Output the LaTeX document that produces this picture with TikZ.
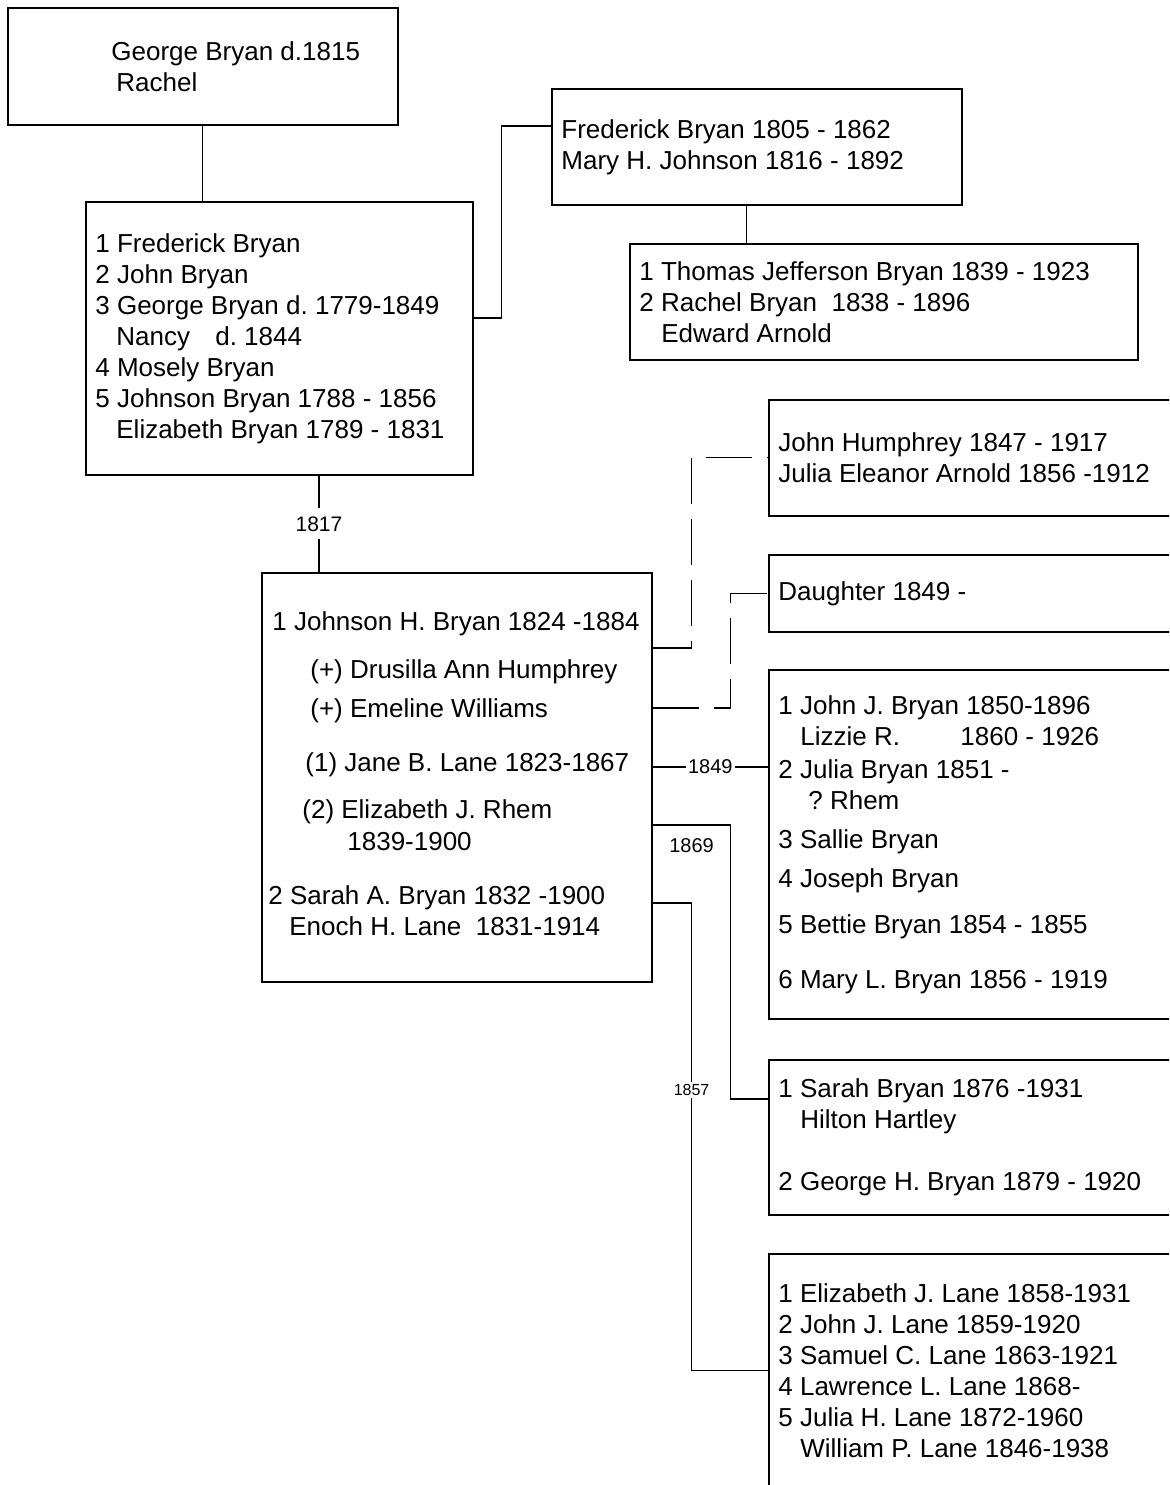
\documentclass[tikz,border=0pt]{standalone}
\usepackage{fontspec}
\setmainfont{Liberation Sans}
\usetikzlibrary{positioning,calc}

\tikzset{
  famBox/.style={draw, line width=0.8pt, inner sep=0pt, anchor=north west},
  famText/.style={inner sep=0pt, align=left, font=\fontsize{13}{15.5}\selectfont},
  link/.style={line width=0.6pt},
  dashLink/.style={line width=0.6pt, dash pattern=on 23pt off 7.5pt},
  yearLbl/.style={fill=white, inner sep=1pt, font=\fontsize{10}{12}\selectfont},
}

\begin{document}
\frenchspacing
\begin{tikzpicture}[x=0.5pt,y=-0.5pt]
\useasboundingbox (0,0) rectangle (1169,1485);
\clip (0,0) rectangle (1169,1485);

% boxes
\node[famBox, minimum width=195pt, minimum height=58.5pt] (george) at (7,7) {};
\node[famBox, minimum width=193.5pt, minimum height=136.5pt] (kids) at (85,201) {};
\node[famBox, minimum width=205pt, minimum height=58pt] (fred) at (551,88) {};
\node[famBox, minimum width=254pt, minimum height=58pt] (thomas) at (629,243) {};
\node[famBox, minimum width=195pt, minimum height=204.5pt] (john) at (261,572) {};
\node[famBox, minimum width=215pt, minimum height=58pt] (humph) at (768,399) {};
\node[famBox, minimum width=215pt, minimum height=38.5pt] (dau) at (768,554) {};
\node[famBox, minimum width=215pt, minimum height=174.5pt] (jj) at (768,669) {};
\node[famBox, minimum width=215pt, minimum height=77.5pt] (sarah) at (768,1059) {};
\node[famBox, minimum width=215pt, minimum height=116.5pt] (lane) at (768,1253) {};

% texts
\node[famText, right=5pt of george.west] (georgeTxt)
  {\hspace*{47pt}George Bryan d.1815\\ \hspace*{49.5pt}Rachel};
\node[famText, right=5pt of kids.west] (kidsTxt)
  {1 Frederick Bryan\\
   2 John Bryan\\
   3 George Bryan d. 1779-1849\\
   \hspace*{10.5pt}Nancy\hspace{9pt} d. 1844\\
   4 Mosely Bryan\\
   5 Johnson Bryan 1788 - 1856\\
   \hspace*{10.5pt}Elizabeth Bryan 1789 - 1831};
\node[famText, right=5pt of fred.west] (fredTxt)
  {Frederick Bryan 1805 - 1862\\ Mary H. Johnson 1816 - 1892};
\node[famText, right=5pt of thomas.west] (thomasTxt)
  {1 Thomas Jefferson Bryan 1839 - 1923\\
   2 Rachel Bryan\ \ 1838 - 1896\\
   \hspace*{11pt}Edward Arnold};
\node[famText, right=3.5pt of john.west, yshift=2pt] (johnTxt)
  {\hspace*{2pt}1 Johnson H. Bryan 1824 -1884\\[8.5pt]
   \hspace*{21pt}(+) Drusilla Ann Humphrey\\[4pt]
   \hspace*{21pt}(+) Emeline Williams\\[11.5pt]
   \hspace*{18.5pt}(1) Jane B. Lane 1823-1867\\[8pt]
   \hspace*{17pt}(2) Elizabeth J. Rhem\\[0.5pt]
   \hspace*{39.5pt}1839-1900\\[11.5pt]
   2 Sarah A. Bryan 1832 -1900\\
   \hspace*{10.5pt}Enoch H. Lane\ \ 1831-1914};
\node[famText, right=5pt of humph.west] (humphTxt)
  {John Humphrey 1847 - 1917\\ Julia Eleanor Arnold 1856 -1912};
\node[famText, right=5pt of dau.west] (dauTxt) {Daughter 1849 -};
\node[famText, right=5pt of jj.west] (jjTxt)
  {1 John J. Bryan 1850-1896\\
   \hspace*{11pt}\makebox[80pt][l]{Lizzie R.}1860 - 1926\\[1pt]
   2 Julia Bryan 1851 -\\
   \hspace*{15pt}? Rhem\\[4pt]
   3 Sallie Bryan\\[4pt]
   4 Joseph Bryan\\[7.5pt]
   5 Bettie Bryan 1854 - 1855\\[12pt]
   6 Mary L. Bryan 1856 - 1919};
\node[famText, right=5pt of sarah.west] (sarahTxt)
  {1 Sarah Bryan 1876 -1931\\
   \hspace*{11pt}Hilton Hartley\\[15.5pt]
   2 George H. Bryan 1879 - 1920};
\node[famText, right=5pt of lane.west] (laneTxt)
  {1 Elizabeth J. Lane 1858-1931\\
   2 John J. Lane 1859-1920\\
   3 Samuel C. Lane 1863-1921\\
   4 Lawrence L. Lane 1868-\\
   5 Julia H. Lane 1872-1960\\
   \hspace*{11pt}William P. Lane 1846-1938};

% connectors
\coordinate (k1) at ($(kids.south west)+(234,0)$);
\coordinate (f1) at ([xshift=-5pt]fred.south);
\coordinate (j1) at ($(john.north east)+(0,76)$);
\coordinate (j2) at ($(john.north east)+(0,136)$);
\coordinate (j3) at ($(john.north east)+(0,195)$);
\coordinate (j4) at ($(john.north east)+(0,253)$);
\coordinate (j5) at ($(john.north east)+(0,331)$);
\coordinate (s1) at ($(sarah.north west)+(0,40)$);

\draw[link] (george.south) -- (george.south |- kids.north);
\draw[link] ($(kids.north east)+(0,117)$) -- ++(28,0) |- ($(fred.north west)+(0,38)$);
\draw[link] (f1) -- (f1 |- thomas.north);
\draw[link] (k1) -- node[yearLbl, inner ysep=4pt, font=\fontsize{10.5}{12}\selectfont] (lbl1817) {1817} (k1 |- john.north);
\draw[dashLink] (j1) -- ++(39,0) |- (humph.west);
\draw[dashLink] (j2) -- ++(78,0) |- (dau.west);
\draw[link] (j3) -- node[yearLbl] (lbl1849) {1849} (j3 -| jj.west);
\draw[link] (j4) -- node[below=6.5pt, inner sep=0pt, font=\fontsize{10}{12}\selectfont] (lbl1869) {1869} ++(78,0) |- (s1);
\draw[link] (j5) -- ++(39,0) |- node[pos=0.2, yearLbl, font=\fontsize{8}{10}\selectfont] (lbl1857) {1857} (lane.west);
\end{tikzpicture}
\end{document}
